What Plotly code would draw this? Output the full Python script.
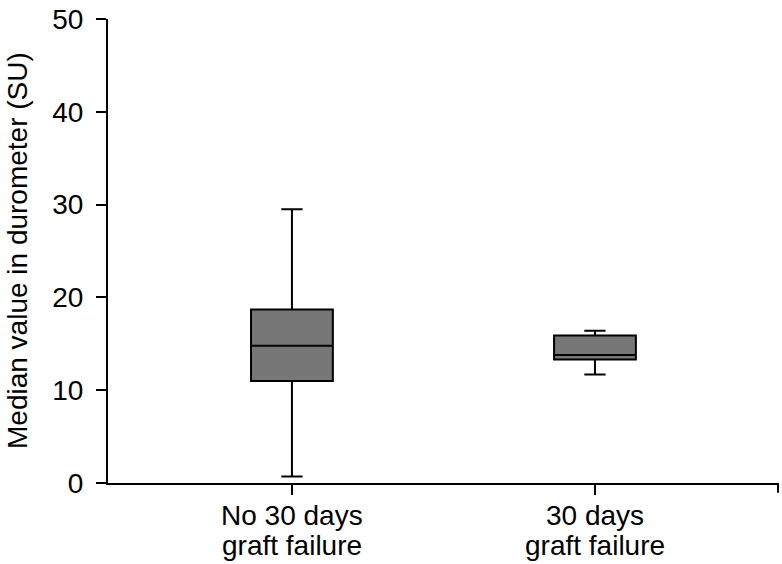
import plotly.graph_objects as go

categories = ["No 30 days graft failure", "30 days graft failure"]
label_line1 = ["No 30 days", "30 days"]
label_line2 = ["graft failure", "graft failure"]
lower_whisker = [0.7, 11.7]
q1_values = [11.0, 13.3]
median_values = [14.8, 13.8]
q3_values = [18.7, 15.9]
upper_whisker = [29.5, 16.4]
y_ticks = [0, 10, 20, 30, 40, 50]
y_title = "Median value in durometer (SU)"

fig = go.Figure()
fig.add_trace(go.Box(
    x=categories,
    q1=q1_values,
    median=median_values,
    q3=q3_values,
    lowerfence=lower_whisker,
    upperfence=upper_whisker,
    fillcolor="#777777",
    line=dict(color="black", width=2),
    width=0.27,
    whiskerwidth=0.26,
    boxpoints=False,
    showlegend=False,
    hoverinfo="skip",
))

fam = "Liberation Sans, Arial, sans-serif"
font28 = dict(family=fam, size=28, color="black")
fig.update_layout(
    width=782, height=564,
    margin=dict(l=108, r=4, t=13, b=81),
    paper_bgcolor="white", plot_bgcolor="white",
    font=font28,
    xaxis=dict(
        range=[-0.607, 1.604],
        showline=True, linecolor="black", linewidth=2,
        ticks="outside", ticklen=10, tickwidth=2, tickcolor="black",
        showgrid=False, zeroline=False,
        showticklabels=False,
    ),
    yaxis=dict(
        range=[0, 50],
        tickvals=y_ticks,
        showline=True, linecolor="black", linewidth=2,
        ticks="outside", ticklen=10, tickwidth=2, tickcolor="black",
        showgrid=False, zeroline=False,
        tickfont=font28,
        ticklabeloverflow="allow",
        ticklabelstandoff=7,
    ),
)
for cat, l1, l2 in zip(categories, label_line1, label_line2):
    fig.add_annotation(text=l1, x=cat, xref="x", y=0, yref="paper",
                       xanchor="center", yanchor="middle", yshift=-32,
                       showarrow=False, font=font28)
    fig.add_annotation(text=l2, x=cat, xref="x", y=0, yref="paper",
                       xanchor="center", yanchor="middle", yshift=-62,
                       showarrow=False, font=font28)
fig.add_annotation(
    text=y_title, textangle=-90, xref="paper", yref="paper",
    x=0, y=0.5, xanchor="center", yanchor="middle", xshift=-91,
    showarrow=False, font=font28,
)
fig.add_shape(type="line", xref="paper", yref="paper", x0=1, x1=1, y0=0, y1=-10/470,
              line=dict(color="black", width=2))
fig.write_html("out.html", config={"displayModeBar": False},
               post_script="document.body.style.margin='0';document.body.style.overflow='hidden';")
